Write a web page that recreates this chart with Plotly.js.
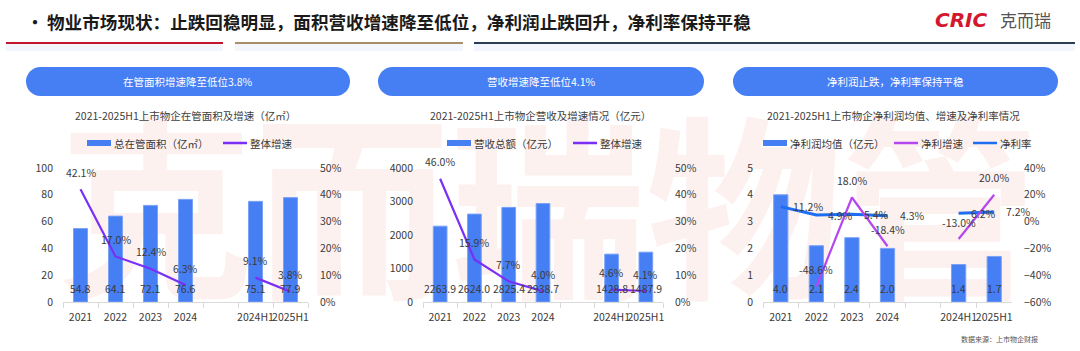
<!DOCTYPE html>
<html>
<head>
<meta charset="utf-8">
<script src="https://cdn.plot.ly/plotly-3.0.1.min.js"></script>
<style>
  html, body { margin:0; padding:0; background:#ffffff; }
  #wrap { position:relative; width:1080px; height:351px; overflow:hidden; }
  #wm { position:absolute; left:58px; top:100px; font-family:"Noto Sans CJK SC"; font-weight:700;
        font-size:196px; line-height:1; letter-spacing:0px; color:#fdf1f0; white-space:nowrap; z-index:0; }
  #chart { position:absolute; left:0; top:0; width:1080px; height:351px; z-index:1; }
</style>
</head>
<body>
<div id="wrap">
  <div id="wm">克而瑞物管</div>
  <div id="chart"></div>
</div>
<script>
// ---------------- data ----------------
const categories = ['2021', '2022', '2023', '2024', ' ', '2024H1', '2025H1'];

const areaValues   = [54.8, 64.1, 72.1, 76.6, null, 75.1, 77.9];      // 亿㎡
const areaGrowth   = [42.1, 17.0, 12.4, 6.3, null, 9.1, 3.8];         // %

const revenueValues = [2263.9, 2624.0, 2825.4, 2938.7, null, 1428.8, 1487.9]; // 亿元
const revenueGrowth = [46.0, 15.9, 7.7, 4.0, null, 4.6, 4.1];                // %

const profitValues = [4.0, 2.1, 2.4, 2.0, null, 1.4, 1.7];            // 亿元
const profitGrowth = [null, -48.6, 18.0, -18.4, null, -13.0, 20.0];   // %
const netMargin    = [11.2, 4.9, 5.4, 4.3, null, 6.2, 7.2];           // %

const headerText = '物业市场现状：止跌回稳明显，面积营收增速降至低位，净利润止跌回升，净利率保持平稳';
const pillTexts = ['在管面积增速降至低位3.8%', '营收增速降至低位4.1%', '净利润止跌，净利率保持平稳'];
const chartTitles = ['2021-2025H1上市物企在管面积及增速（亿㎡）',
                     '2021-2025H1上市物企营收及增速情况（亿元）',
                     '2021-2025H1上市物企净利润均值、增速及净利率情况'];
const legendNames = [['总在管面积（亿㎡）', '整体增速'],
                     ['营收总额（亿元）', '整体增速'],
                     ['净利润均值（亿元）', '净利增速', '净利率']];
const sourceText = '数据来源：上市物企财报';

// ---------------- styling ----------------
const W = 1080, H = 351;
const px = x => x / W;
const py = y => 1 - y / H;
const FONT = '"Noto Sans CJK SC", "Noto Sans", sans-serif';
const BAR = '#467ef4';
const VIOLET = '#7a2ff6';
const MAGENTA = '#b646ef';
const BLUE = '#1f6df1';
const TXT = '#3a3a3a';
const FS = 10.5;

const yDom = [py(302), py(168)];
const xDoms = [[px(63), px(308)], [px(423), px(663)], [px(763), px(1012)]];

function xAxis(i) {
  return {
    domain: xDoms[i], anchor: i === 0 ? 'y' : 'y' + (2 * i + 1),
    type: 'category', categoryorder: 'array', categoryarray: categories,
    range: [-0.5, 6.5], fixedrange: true, tickangle: 0, ticklabelstandoff: 5,
    showline: true, linecolor: '#d9d9d9', linewidth: 1,
    ticks: 'outside', tickson: 'boundaries', ticklen: 5, tickcolor: '#d9d9d9',
    tickfont: {family: FONT, size: FS, color: TXT}, showgrid: false, zeroline: false
  };
}
function yLeft(i, range, dtick) {
  return {
    domain: yDom, anchor: i === 0 ? 'x' : 'x' + (i + 1), range: range, dtick: dtick,
    showgrid: false, zeroline: false, showline: false, ticks: '',
    ticklabelstandoff: 9, tickfont: {family: FONT, size: FS, color: TXT}, fixedrange: true
  };
}
function yRight(i, range, dtick) {
  return {
    overlaying: i === 0 ? 'y' : 'y' + (2 * i + 1), anchor: i === 0 ? 'x' : 'x' + (i + 1),
    side: 'right', range: range, dtick: dtick, ticksuffix: '%',
    showgrid: false, zeroline: false, showline: false, ticks: '',
    ticklabelstandoff: 11, tickfont: {family: FONT, size: FS, color: TXT}, fixedrange: true
  };
}

const xs = ['x', 'x2', 'x3'];
const yl = ['y', 'y3', 'y5'];
const yr = ['y2', 'y4', 'y6'];

const traces = [];
function bar(i, vals, name) {
  traces.push({type: 'bar', x: categories, y: vals, xaxis: xs[i], yaxis: yl[i], name: name,
    marker: {color: BAR, line: {color: '#7aa3f6', width: 1}}, width: 0.4, hoverinfo: 'skip', showlegend: false});
}
function line(i, vals, name, color, w) {
  traces.push({type: 'scatter', mode: 'lines', x: categories, y: vals, xaxis: xs[i], yaxis: yr[i], name: name,
    line: {color: color, width: w}, connectgaps: false, hoverinfo: 'skip', showlegend: false});
}
bar(0, areaValues, legendNames[0][0]);
line(0, areaGrowth, legendNames[0][1], VIOLET, 2.2);
bar(1, revenueValues, legendNames[1][0]);
line(1, revenueGrowth, legendNames[1][1], VIOLET, 2.2);
bar(2, profitValues, legendNames[2][0]);
line(2, netMargin, legendNames[2][2], BLUE, 3);
line(2, profitGrowth, legendNames[2][1], MAGENTA, 2.2);

const annotations = [];
const shapes = [];
function txt(text, x, y, size, color, xanchor, extra) {
  annotations.push(Object.assign({text: text, x: x, y: y, xref: 'paper', yref: 'paper',
    xanchor: xanchor || 'center', yanchor: 'middle', showarrow: false,
    font: {family: FONT, size: size, color: color}}, extra || {}));
}

// data labels (x given as category index)
function barLabels(i, vals) {
  vals.forEach((v, k) => {
    if (v === null) return;
    annotations.push({text: v.toFixed(1), x: k, y: 0, xref: xs[i], yref: yl[i],
      yanchor: 'bottom', yshift: 4, showarrow: false, font: {family: FONT, size: FS, color: TXT}});
  });
}
function lineLabels(i, vals, mode) {
  vals.forEach((v, k) => {
    if (v === null) return;
    const a = {text: v.toFixed(1) + '%', x: k, y: v, xref: xs[i], yref: yr[i],
      showarrow: false, font: {family: FONT, size: FS, color: TXT}};
    if (mode === 'right') { a.xanchor = 'left'; a.xshift = 10; a.yanchor = 'middle'; }
    else { a.yanchor = 'middle'; a.yshift = 17; }
    annotations.push(a);
  });
}
barLabels(0, areaValues);   lineLabels(0, areaGrowth, 'top');
barLabels(1, revenueValues); lineLabels(1, revenueGrowth, 'top');
barLabels(2, profitValues); lineLabels(2, netMargin, 'right'); lineLabels(2, profitGrowth, 'top');

// header
txt('•', px(23), py(21), 20, '#1a1a1a', 'left');
txt('<b>' + headerText + '</b>', px(45), py(21), 17.6, '#1a1a1a', 'left');
txt('<b><i>CRIC</i></b>', px(933), py(20), 20, '#d3172e', 'left', {font: {family: '"DejaVu Sans", sans-serif', size: 20, color: '#d3172e'}});
txt('克而瑞', px(998), py(20), 17, '#555555', 'left');

const hdrLines = [[6, 223, '#c3172f'], [235, 463, '#a68f69'], [474, 1075, '#2b3d56']];
hdrLines.forEach(l => {
  shapes.push({type: 'rect', xref: 'paper', yref: 'paper', x0: px(l[0]), x1: px(l[1]), y0: py(51), y1: py(44),
    fillcolor: '#f3f6fc', line: {width: 0}, layer: 'below'});
  shapes.push({type: 'line', xref: 'paper', yref: 'paper', x0: px(l[0]), x1: px(l[1]), y0: py(43), y1: py(43),
    line: {color: l[2], width: 2.2}});
});

// pills
const pills = [[26, 350], [378, 704], [733, 1058]];
const pillTop = 67, pillBot = 96, r = (pillBot - pillTop) / 2;
pills.forEach((p, i) => {
  shapes.push({type: 'rect', xref: 'paper', yref: 'paper', x0: px(p[0] + r), x1: px(p[1] - r),
    y0: py(pillBot), y1: py(pillTop), fillcolor: BAR, line: {width: 0}});
  shapes.push({type: 'circle', xref: 'paper', yref: 'paper', x0: px(p[0]), x1: px(p[0] + 2 * r),
    y0: py(pillBot), y1: py(pillTop), fillcolor: BAR, line: {width: 0}});
  shapes.push({type: 'circle', xref: 'paper', yref: 'paper', x0: px(p[1] - 2 * r), x1: px(p[1]),
    y0: py(pillBot), y1: py(pillTop), fillcolor: BAR, line: {width: 0}});
  txt(pillTexts[i], px((p[0] + p[1]) / 2), py(81.5), FS, '#ffffff');
});

// chart titles
const titleX = [185, 540, 894];
chartTitles.forEach((t, i) => txt(t, px(titleX[i]), py(115), FS, '#404040'));

// legends (symbol positions in px)
const LY = 143;
const legendItems = [
  [{kind: 'bar', x: 87, color: BAR}, {kind: 'line', x: 223, color: VIOLET}],
  [{kind: 'bar', x: 447, color: BAR}, {kind: 'line', x: 573, color: VIOLET}],
  [{kind: 'bar', x: 763, color: BAR}, {kind: 'line', x: 894, color: MAGENTA}, {kind: 'line', x: 973, color: BLUE}]
];
legendItems.forEach((items, i) => {
  items.forEach((it, k) => {
    if (it.kind === 'bar') {
      shapes.push({type: 'rect', xref: 'paper', yref: 'paper', x0: px(it.x), x1: px(it.x + 24),
        y0: py(LY + 3), y1: py(LY - 3), fillcolor: it.color, line: {width: 0}});
    } else {
      shapes.push({type: 'line', xref: 'paper', yref: 'paper', x0: px(it.x), x1: px(it.x + 24),
        y0: py(LY), y1: py(LY), line: {color: it.color, width: 2.5}});
    }
    txt(legendNames[i][k], px(it.x + 25), py(LY), FS, TXT, 'left');
  });
});

// source
txt(sourceText, px(1040), py(339), 7, '#555555', 'right');

const layout = {
  width: W, height: H, margin: {l: 0, r: 0, t: 0, b: 0},
  paper_bgcolor: 'rgba(0,0,0,0)', plot_bgcolor: 'rgba(0,0,0,0)',
  font: {family: FONT, size: FS, color: TXT},
  showlegend: false, hovermode: false, barmode: 'group',
  xaxis: xAxis(0), xaxis2: xAxis(1), xaxis3: xAxis(2),
  yaxis: yLeft(0, [0, 100], 20), yaxis2: yRight(0, [0, 50], 10),
  yaxis3: yLeft(1, [0, 4000], 1000), yaxis4: yRight(1, [0, 50], 10),
  yaxis5: yLeft(2, [0, 5], 1), yaxis6: yRight(2, [-60, 40], 20),
  annotations: annotations, shapes: shapes
};

Plotly.newPlot('chart', traces, layout, {displayModeBar: false, staticPlot: true});
</script>
</body>
</html>
